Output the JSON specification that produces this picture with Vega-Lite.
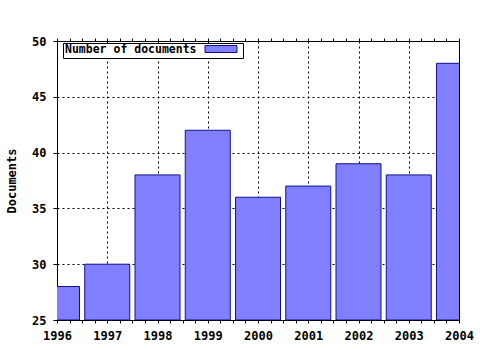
{
  "$schema": "https://vega.github.io/schema/vega-lite/v6.json",
  "autosize": "none",
  "width": 402,
  "height": 279,
  "padding": {"left": 57, "top": 41, "right": 21, "bottom": 30},
  "background": "white",
  "config": {
    "view": {"stroke": "black", "strokeWidth": 1},
    "font": "DejaVu Sans Mono",
    "axis": {
      "labelFont": "DejaVu Sans Mono",
      "labelFontWeight": "bold",
      "labelFontSize": 12,
      "labelColor": "black",
      "titleFont": "DejaVu Sans Mono",
      "titleFontWeight": "bold",
      "titleFontSize": 12,
      "titleColor": "black",
      "domainColor": "black",
      "tickColor": "black",
      "gridColor": "black",
      "gridDash": [2, 3],
      "gridWidth": 1
    }
  },
  "data": {
    "values": [
      {"year": 1996, "documents": 28},
      {"year": 1997, "documents": 30},
      {"year": 1998, "documents": 38},
      {"year": 1999, "documents": 42},
      {"year": 2000, "documents": 36},
      {"year": 2001, "documents": 37},
      {"year": 2002, "documents": 39},
      {"year": 2003, "documents": 38},
      {"year": 2004, "documents": 48}
    ]
  },
  "resolve": {"axis": {"x": "independent"}},
  "layer": [
    {
      "mark": {"type": "bar", "orient": "vertical", "width": 45, "clip": true, "stroke": "#101090", "strokeWidth": 1},
      "encoding": {
        "x": {
          "field": "year",
          "type": "quantitative",
          "scale": {"domain": [1996, 2004], "nice": false, "zero": false, "padding": 0},
          "axis": {
            "orient": "bottom",
            "title": null,
            "values": [1996, 1996.25, 1996.5, 1996.75, 1997, 1997.25, 1997.5, 1997.75, 1998, 1998.25, 1998.5, 1998.75, 1999, 1999.25, 1999.5, 1999.75, 2000, 2000.25, 2000.5, 2000.75, 2001, 2001.25, 2001.5, 2001.75, 2002, 2002.25, 2002.5, 2002.75, 2003, 2003.25, 2003.5, 2003.75, 2004],
            "labelExpr": "datum.value % 1 === 0 ? '' + datum.value : ''",
            "labelOverlap": false,
            "labelFlush": false,
            "tickSize": 3,
            "labelPadding": 7,
            "grid": true,
            "gridOpacity": {"condition": {"test": "datum.value % 1 === 0", "value": 1}, "value": 0}
          }
        },
        "y": {
          "field": "documents",
          "type": "quantitative",
          "scale": {"domain": [25, 50], "nice": false, "zero": false, "padding": 0},
          "axis": {
            "title": "Documents",
            "values": [25, 30, 35, 40, 45, 50],
            "tickSize": 4,
            "labelPadding": 7,
            "titlePadding": 13,
            "grid": true
          }
        },
        "y2": {"datum": 25},
        "color": {
          "datum": "Number of documents",
          "scale": {"range": ["#8080ff"]},
          "legend": {
            "orient": "none",
            "legendX": 6,
            "legendY": 2,
            "title": "Number of documents",
            "titleOrient": "left",
            "titleFont": "DejaVu Sans Mono",
            "titleFontWeight": "bold",
            "titleFontSize": 11.5,
            "titleColor": "black",
            "titleBaseline": "middle",
            "titlePadding": 20,
            "labelExpr": "''",
            "labelFontSize": 1,
            "labelOffset": 16,
            "symbolType": "M-4.57,-1H4.57V1H-4.57Z",
            "symbolSize": 49,
            "symbolStrokeColor": "#101090",
            "symbolStrokeWidth": 1,
            "symbolFillColor": "#8080ff",
            "fillColor": "white",
            "strokeColor": "black",
            "padding": 2
          }
        }
      }
    },
    {
      "mark": {"type": "point", "opacity": 0},
      "encoding": {
        "x": {
          "field": "year",
          "type": "quantitative",
          "axis": {
            "orient": "top",
            "title": null,
            "labels": false,
            "grid": false,
            "tickSize": 3,
            "values": [1996, 1996.25, 1996.5, 1996.75, 1997, 1997.25, 1997.5, 1997.75, 1998, 1998.25, 1998.5, 1998.75, 1999, 1999.25, 1999.5, 1999.75, 2000, 2000.25, 2000.5, 2000.75, 2001, 2001.25, 2001.5, 2001.75, 2002, 2002.25, 2002.5, 2002.75, 2003, 2003.25, 2003.5, 2003.75, 2004]
          }
        },
        "y": {"field": "documents", "type": "quantitative"}
      }
    }
  ]
}
